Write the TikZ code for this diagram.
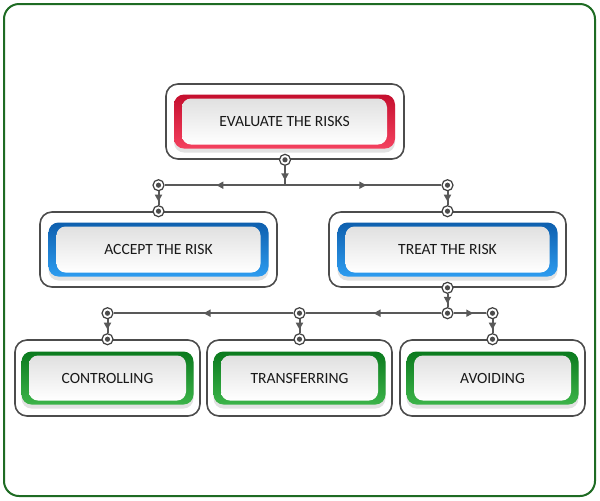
\documentclass[tikz,border=0pt]{standalone}
\usepackage{fontspec}
\setmainfont{Carlito}
\usetikzlibrary{arrows.meta,shadows,decorations.markings}

\definecolor{redtop}{HTML}{C50F2E}
\definecolor{redbot}{HTML}{F4415F}
\definecolor{bluetop}{HTML}{0E5FAE}
\definecolor{bluebot}{HTML}{2D9CF0}
\definecolor{greentop}{HTML}{0B7A1E}
\definecolor{greenbot}{HTML}{3CB449}
\definecolor{pagegreen}{HTML}{1E6B23}

\begin{document}
\begin{tikzpicture}[x=0.5pt,y=-0.5pt,
      wire/.style={draw=black!65,line width=1pt},
      midarrow/.style={postaction={decorate,decoration={markings,
        mark=at position #1 with {\arrow{Triangle[length=3.5pt,width=3.5pt]}}}}},
      port/.style={circle,draw=black!75,line width=0.6pt,fill=white,
        minimum size=5.5pt,inner sep=0pt,
        path picture={\fill[black!70] (path picture bounding box.center) circle (1.3pt);}},
      frame/.style={rectangle,rounded corners=6pt,draw=black!70,line width=0.8pt,
        fill=white,minimum height=37.5pt},
      band/.style={rectangle,rounded corners=5pt,minimum height=27pt,
        drop shadow={shadow xshift=0pt,shadow yshift=-2pt,fill=black!22}},
      face/.style={rectangle,rounded corners=4.5pt,top color=black!12,bottom color=white,
        minimum height=23pt,inner sep=0pt,font=\fontsize{7.8}{9}\selectfont,text=black!90},
      redband/.style={band,top color=redtop,bottom color=redbot},
      blueband/.style={band,top color=bluetop,bottom color=bluebot},
      greenband/.style={band,top color=greentop,bottom color=greenbot}
    ]

    % page frame
    \useasboundingbox (0,0) rectangle (600,500);
    \draw[pagegreen,line width=1pt,rounded corners=7.5pt] (4,4) rectangle (595,496);

    % Level 0
    \node[frame,minimum width=119pt] (evalF) at (285,121.5) {};
    \node[redband,minimum width=110.5pt] (evalB) at (284.5,121.5) {};
    \node[face,minimum width=102.5pt] (evalT) at (284.5,121.5) {EVALUATE THE RISKS};

    % Level 1
    \node[frame,minimum width=118.5pt] (accF) at (158.5,249.5) {};
    \node[blueband,minimum width=110pt] (accB) at (158.5,249.5) {};
    \node[face,minimum width=102pt] (accT) at (158.5,249.5) {ACCEPT THE RISK};

    \node[frame,minimum width=118.5pt] (trtF) at (447.5,249.5) {};
    \node[blueband,minimum width=110pt] (trtB) at (447.5,249.5) {};
    \node[face,minimum width=102pt] (trtT) at (447.5,249.5) {TREAT THE RISK};

    % Level 2
    \node[frame,minimum width=92.5pt,minimum height=38pt] (ctlF) at (107.5,378) {};
    \node[greenband,minimum width=86pt,minimum height=26.5pt] (ctlB) at (107.5,378) {};
    \node[face,minimum width=78.5pt,minimum height=22.5pt] (ctlT) at (107.5,378) {CONTROLLING};

    \node[frame,minimum width=92.5pt,minimum height=38pt] (trfF) at (299.5,378) {};
    \node[greenband,minimum width=86pt,minimum height=26.5pt] (trfB) at (299.5,378) {};
    \node[face,minimum width=78.5pt,minimum height=22.5pt] (trfT) at (299.5,378) {TRANSFERRING};

    \node[frame,minimum width=92.5pt,minimum height=38pt] (avdF) at (492.5,378) {};
    \node[greenband,minimum width=86pt,minimum height=26.5pt] (avdB) at (492.5,378) {};
    \node[face,minimum width=78.5pt,minimum height=22.5pt] (avdT) at (492.5,378) {AVOIDING};

    % ports
    \node[port] (pE)  at (evalF.south) {};
    \node[port] (pA2) at (accF.north) {};
    \node[port] (pA1) at ([yshift=13pt]accF.north) {};
    \node[port] (pT2) at (trtF.north) {};
    \node[port] (pT1) at ([yshift=13pt]trtF.north) {};
    \coordinate (j1) at (pE |- pA1);

    \node[port] (pT3) at (trtF.south) {};
    \node[port] (pC2) at (ctlF.north) {};
    \node[port] (pC1) at ([yshift=13pt]ctlF.north) {};
    \node[port] (pR2) at (trfF.north) {};
    \node[port] (pR1) at ([yshift=13pt]trfF.north) {};
    \node[port] (pV2) at (avdF.north) {};
    \node[port] (pV1) at ([yshift=13pt]avdF.north) {};
    \node[port] (pJ)  at (pT3 |- pC1) {};

    % connectors, upper part
    \draw[wire,midarrow=0.75] (pE) -- (j1);
    \draw[wire,midarrow=0.57] (j1) -- (pA1);
    \draw[wire,midarrow=0.52] (j1) -- (pT1);
    \draw[wire,midarrow=0.75] (pA1) -- (pA2);
    \draw[wire,midarrow=0.75] (pT1) -- (pT2);

    % connectors, lower part
    \draw[wire,midarrow=0.75] (pT3) -- (pJ);
    \draw[wire,midarrow=0.5] (pJ) -- (pR1);
    \draw[wire,midarrow=0.5] (pR1) -- (pC1);
    \draw[wire,midarrow=0.6] (pJ) -- (pV1);
    \draw[wire,midarrow=0.75] (pC1) -- (pC2);
    \draw[wire,midarrow=0.75] (pR1) -- (pR2);
    \draw[wire,midarrow=0.75] (pV1) -- (pV2);

  \end{tikzpicture}
\end{document}
